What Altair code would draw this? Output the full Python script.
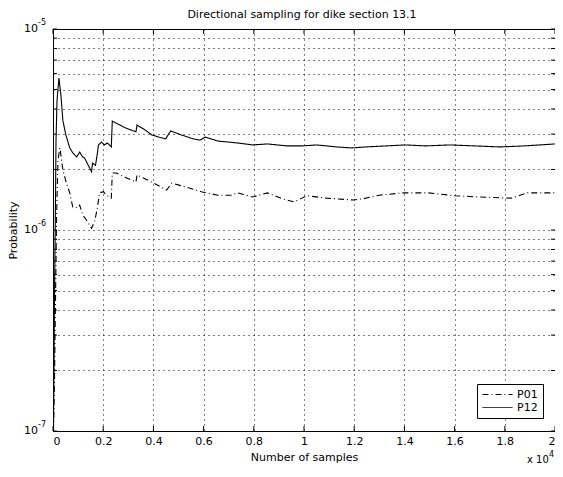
import altair as alt
import pandas as pd

# Data
p12_samples = [20, 60, 100, 120, 160, 236, 315, 394, 512, 669, 787, 945, 1063, 1181, 1260,
               1378, 1535, 1575, 1693, 1772, 1811, 1929, 2047, 2165, 2323, 2362, 2520, 2913,
               3307, 3346, 3661, 3937, 4213, 4488, 4685, 5118, 5591, 5866, 6063, 6575, 7362,
               7953, 8543, 9331, 9921, 10512, 11299, 11890, 12480, 13268, 14055, 14843, 15827,
               16811, 17795, 18780, 20000]
p12_values = [1.07e-7, 4.5e-7, 1.41e-6, 2.8e-6, 4.4e-6, 5.7e-6, 4.7e-6, 3.5e-6, 2.97e-6,
              2.56e-6, 2.42e-6, 2.31e-6, 2.44e-6, 2.31e-6, 2.28e-6, 2.13e-6, 1.95e-6, 2.15e-6,
              2.10e-6, 2.42e-6, 2.65e-6, 2.74e-6, 2.65e-6, 2.71e-6, 2.59e-6, 3.48e-6, 3.40e-6,
              3.21e-6, 3.08e-6, 3.33e-6, 3.15e-6, 2.97e-6, 2.90e-6, 2.84e-6, 3.11e-6, 2.97e-6,
              2.84e-6, 2.80e-6, 2.90e-6, 2.77e-6, 2.71e-6, 2.65e-6, 2.68e-6, 2.62e-6, 2.62e-6,
              2.65e-6, 2.59e-6, 2.56e-6, 2.59e-6, 2.62e-6, 2.65e-6, 2.62e-6, 2.65e-6, 2.62e-6,
              2.59e-6, 2.62e-6, 2.68e-6]

p01_samples = [20, 60, 100, 140, 197, 276, 394, 551, 669, 787, 984, 1063, 1181, 1378, 1535,
               1654, 1772, 1850, 2008, 2126, 2323, 2362, 2520, 2913, 3307, 3346, 3661, 3937,
               4291, 4528, 4724, 5276, 5906, 6575, 7087, 7362, 7953, 8543, 9134, 9606, 10118,
               10906, 11969, 12362, 12992, 13937, 14961, 16024, 16929, 18268, 18898, 20000]
p01_values = [1.0e-7, 1.8e-7, 4.5e-7, 1.12e-6, 2.23e-6, 2.56e-6, 1.99e-6, 1.68e-6, 1.53e-6,
              1.30e-6, 1.29e-6, 1.33e-6, 1.19e-6, 1.10e-6, 1.02e-6, 1.10e-6, 1.29e-6, 1.53e-6,
              1.55e-6, 1.49e-6, 1.44e-6, 1.92e-6, 1.92e-6, 1.82e-6, 1.73e-6, 1.88e-6, 1.80e-6,
              1.73e-6, 1.64e-6, 1.58e-6, 1.71e-6, 1.64e-6, 1.55e-6, 1.49e-6, 1.49e-6, 1.53e-6,
              1.46e-6, 1.53e-6, 1.43e-6, 1.38e-6, 1.48e-6, 1.44e-6, 1.41e-6, 1.43e-6, 1.49e-6,
              1.53e-6, 1.53e-6, 1.48e-6, 1.46e-6, 1.44e-6, 1.53e-6, 1.53e-6]

x_ticks = [0, 2000, 4000, 6000, 8000, 10000, 12000, 14000, 16000, 18000, 20000]
y_ticks = [1e-7, 2e-7, 3e-7, 4e-7, 5e-7, 6e-7, 7e-7, 8e-7, 9e-7,
           1e-6, 2e-6, 3e-6, 4e-6, 5e-6, 6e-6, 7e-6, 8e-6, 9e-6, 1e-5]
decades = [1e-7, 1e-6, 1e-5]
decade_exp = ["-7", "-6", "-5"]
title_text = "Directional sampling for dike section 13.1"

df = pd.concat([
    pd.DataFrame({"samples": p01_samples, "prob": p01_values, "series": "P01", "order": range(len(p01_samples))}),
    pd.DataFrame({"samples": p12_samples, "prob": p12_values, "series": "P12", "order": range(len(p12_samples))}),
])
dec_df = pd.DataFrame({"prob": decades, "base": ["10"] * 3, "exp": decade_exp})
xt_df = pd.DataFrame({"samples": x_ticks})
yt_df = pd.DataFrame({"prob": y_ticks})

FONT = "DejaVu Sans"
GRID = dict(grid=True, gridColor="black", gridDash=[1, 4], gridOpacity=1, gridWidth=1,
            ticks=False, domainColor="black", labelFont=FONT, labelFontSize=11,
            labelColor="black", titleFont=FONT, titleFontSize=11,
            titleFontWeight="normal", titleColor="black")

xscale = alt.Scale(domain=[0, 20000], nice=False, zero=False)
yscale = alt.Scale(type="log", domain=[1e-7, 1e-5], nice=False)
W, H = 502, 402

lines = alt.Chart(df).mark_line(color="black", strokeWidth=1.1, clip=True).encode(
    x=alt.X("samples:Q", scale=xscale,
            axis=alt.Axis(values=x_ticks, title="Number of samples",
                          labelExpr="format(datum.value/10000, '~g')",
                          labelPadding=4, titlePadding=5, labelFlush=True, **GRID)),
    y=alt.Y("prob:Q", scale=yscale,
            axis=alt.Axis(values=y_ticks, title="Probability", labels=False,
                          titlePadding=35, **GRID)),
    strokeDash=alt.StrokeDash("series:N",
                              scale=alt.Scale(domain=["P01", "P12"], range=[[6, 3, 1, 3], [1, 0]]),
                              legend=alt.Legend(title=None, orient="none", legendX=424, legendY=355,
                                                symbolType="M-3,0L3,0", symbolStrokeColor="black",
                                                symbolStrokeWidth=1, symbolSize=100,
                                                fillColor="white", strokeColor="black",
                                                padding=5, labelFont=FONT, labelFontSize=11,
                                                labelColor="black", rowPadding=1, labelOffset=14,
                                                symbolOffset=10)),
    order="order:Q",
)

# inward tick marks (MATLAB style) on all four sides
tick_bot = alt.Chart(xt_df).mark_rule(color="black", strokeWidth=1).encode(
    x=alt.X("samples:Q", scale=xscale), y=alt.value(H), y2=alt.value(H - 5))
tick_top = alt.Chart(xt_df).mark_rule(color="black", strokeWidth=1).encode(
    x=alt.X("samples:Q", scale=xscale), y=alt.value(0), y2=alt.value(5))
tick_left = alt.Chart(yt_df).mark_rule(color="black", strokeWidth=1).encode(
    y=alt.Y("prob:Q", scale=yscale), x=alt.value(0), x2=alt.value(4))
tick_right = alt.Chart(yt_df).mark_rule(color="black", strokeWidth=1).encode(
    y=alt.Y("prob:Q", scale=yscale), x=alt.value(W), x2=alt.value(W - 4))

base_txt = alt.Chart(dec_df).mark_text(
    font=FONT, fontSize=11, align="right", baseline="middle", color="black"
).encode(text="base:N", y=alt.Y("prob:Q", scale=yscale), x=alt.value(-15))

exp_txt = alt.Chart(dec_df).mark_text(
    font=FONT, fontSize=8, align="left", baseline="middle", color="black", dy=-6
).encode(text="exp:N", y=alt.Y("prob:Q", scale=yscale), x=alt.value(-15))

mult = alt.Chart(pd.DataFrame({"t": ["x 10"]})).mark_text(
    font=FONT, fontSize=10, align="left", baseline="middle", color="black"
).encode(text="t:N", x=alt.value(474), y=alt.value(431))

mult_exp = alt.Chart(pd.DataFrame({"t": ["4"]})).mark_text(
    font=FONT, fontSize=8, align="left", baseline="middle", color="black"
).encode(text="t:N", x=alt.value(496), y=alt.value(426))

title = alt.Chart(pd.DataFrame({"t": [title_text]})).mark_text(
    font=FONT, fontSize=11, align="center", baseline="middle", color="black"
).encode(text="t:N", x=alt.value(249), y=alt.value(-14))

chart = alt.layer(lines, tick_bot, tick_top, tick_left, tick_right,
                  base_txt, exp_txt, mult, mult_exp, title).properties(
    width=W, height=H,
    background="white",
    autosize=alt.AutoSizeParams(type="none"),
    padding={"left": 45, "top": 21, "right": 0, "bottom": 34},
).configure_view(stroke="black", strokeWidth=1)

chart.save("out.html", embed_options={"renderer": "svg", "actions": False})
